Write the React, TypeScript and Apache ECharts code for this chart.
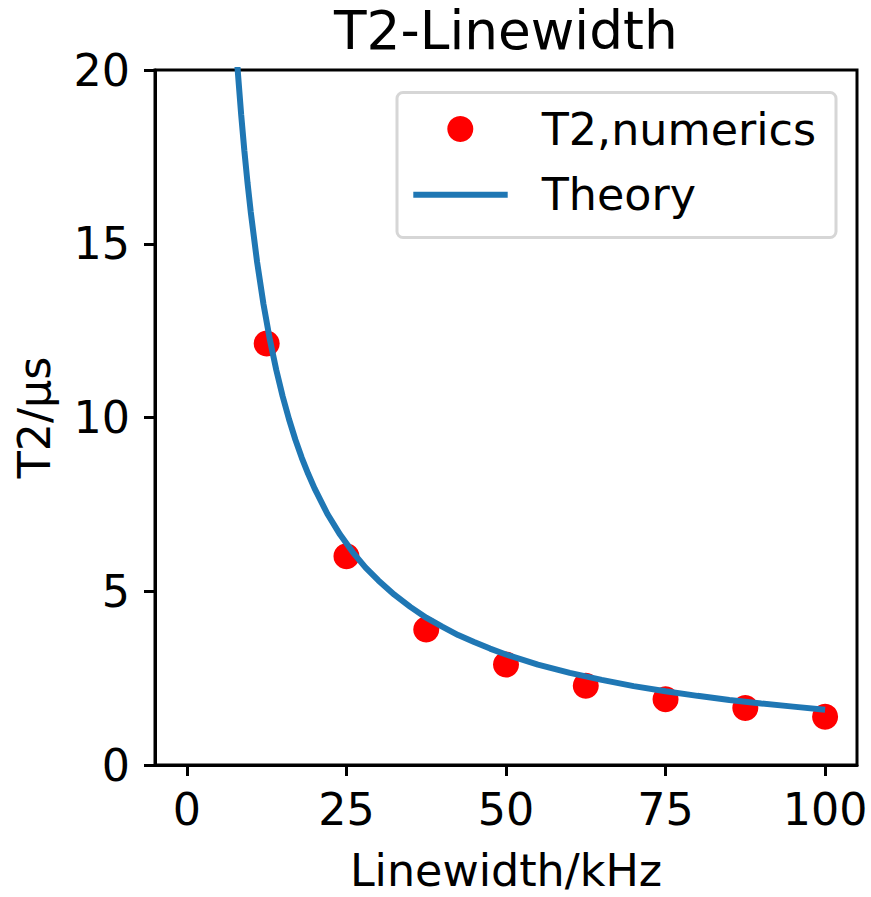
import React, { useEffect, useRef } from "react";
import * as echarts from "echarts";

const numericsX = [12.5, 25, 37.5, 50, 62.5, 75, 87.5, 100];
const numericsY = [12.13, 6.01, 3.9, 2.89, 2.28, 1.89, 1.64, 1.39];

const theoryX = [
  7.5, 8, 8.5, 9, 9.5, 10, 11, 12, 13, 14, 15, 16, 17, 18, 19, 20, 22, 24, 26, 28, 30,
  32.5, 35, 37.5, 40, 42.5, 45, 47.5, 50, 55, 60, 65, 70, 75, 80, 85, 90, 95, 100,
];
const theoryY = [
  21.22, 19.89, 18.72, 17.68, 16.75, 15.92, 14.47, 13.26, 12.24, 11.37, 10.61, 9.95, 9.36,
  8.84, 8.38, 7.96, 7.23, 6.63, 6.12, 5.68, 5.31, 4.9, 4.55, 4.24, 3.98, 3.74, 3.54, 3.35,
  3.18, 2.89, 2.65, 2.45, 2.27, 2.12, 1.99, 1.87, 1.77, 1.68, 1.59,
];

const xTicks = [0, 25, 50, 75, 100];
const titleText = "T2-Linewidth";
const xName = "Linewidth/kHz";
const yName = "T2/μs";
const seriesNames = ["T2,numerics", "Theory"];

const FONT = "DejaVu Sans";
const RED = "#ff0000";
const BLUE = "#1f77b4";

export default function App() {
  const ref = useRef<HTMLDivElement>(null);
  useEffect(() => {
    const chart = echarts.init(ref.current!, null, { renderer: "svg" });
    const axisFont = { fontFamily: FONT, fontSize: 44.4, color: "#000" };
    chart.setOption({
      animation: false,
      backgroundColor: "#fff",
      title: {
        text: titleText,
        left: 334,
        top: 4,
        padding: 0,
        textStyle: { fontFamily: FONT, fontSize: 53.3, fontWeight: "normal", color: "#000" },
      },
      grid: {
        left: 155,
        top: 70,
        right: 14,
        bottom: 130,
        show: true,
        borderColor: "#000",
        borderWidth: 3,
        backgroundColor: "transparent",
        containLabel: false,
      },
      xAxis: {
        type: "value",
        min: -5,
        max: 105,
        name: xName,
        nameLocation: "middle",
        nameGap: 83,
        nameTextStyle: axisFont,
        axisLine: { show: true, onZero: false, lineStyle: { color: "#000", width: 3 } },
        axisTick: {
          show: true,
          length: 11,
          customValues: xTicks,
          lineStyle: { color: "#000", width: 3 },
        },
        axisLabel: { ...axisFont, margin: 22, customValues: xTicks },
        splitLine: { show: false },
      },
      yAxis: {
        type: "value",
        min: 0,
        max: 20,
        interval: 5,
        name: yName,
        nameLocation: "middle",
        nameGap: 99,
        nameRotate: 90,
        nameTextStyle: axisFont,
        axisLine: { show: true, onZero: false, lineStyle: { color: "#000", width: 3 } },
        axisTick: { show: true, length: 11, lineStyle: { color: "#000", width: 3 } },
        axisLabel: { ...axisFont, margin: 25 },
        splitLine: { show: false },
      },
      series: [
        {
          name: seriesNames[0],
          type: "scatter",
          symbol: "circle",
          symbolSize: 26,
          itemStyle: { color: RED, opacity: 1 },
          data: numericsX.map((x, i) => [x, numericsY[i]]),
          z: 2,
        },
        {
          name: seriesNames[1],
          type: "line",
          showSymbol: false,
          symbol: "none",
          clip: true,
          lineStyle: { color: BLUE, width: 6 },
          itemStyle: { color: BLUE },
          data: theoryX.map((x, i) => [x, theoryY[i]]),
          z: 3,
        },
      ],
      graphic: [
        {
          type: "rect",
          shape: { x: 397, y: 92.5, width: 439, height: 145, r: 6 },
          style: { fill: "rgba(255,255,255,0.8)", stroke: "#d6d6d6", lineWidth: 3 },
          z: 10,
        },
        {
          type: "circle",
          shape: { cx: 460.3, cy: 129, r: 13 },
          style: { fill: RED },
          z: 11,
        },
        {
          type: "line",
          shape: { x1: 413.3, y1: 194.7, x2: 507.7, y2: 194.7 },
          style: { stroke: BLUE, lineWidth: 6 },
          z: 11,
        },
        {
          type: "text",
          x: 541.7,
          y: 129,
          style: {
            text: seriesNames[0],
            fontFamily: FONT,
            fontSize: 44.4,
            fill: "#000",
            verticalAlign: "middle",
            align: "left",
          },
          z: 11,
        },
        {
          type: "text",
          x: 541.7,
          y: 194.7,
          style: {
            text: seriesNames[1],
            fontFamily: FONT,
            fontSize: 44.4,
            fill: "#000",
            verticalAlign: "middle",
            align: "left",
          },
          z: 11,
        },
      ],
    });
    return () => chart.dispose();
  }, []);
  return (
    <div
      ref={ref}
      style={{ position: "fixed", left: 0, top: 0, width: 871, height: 897 }}
    />
  );
}
